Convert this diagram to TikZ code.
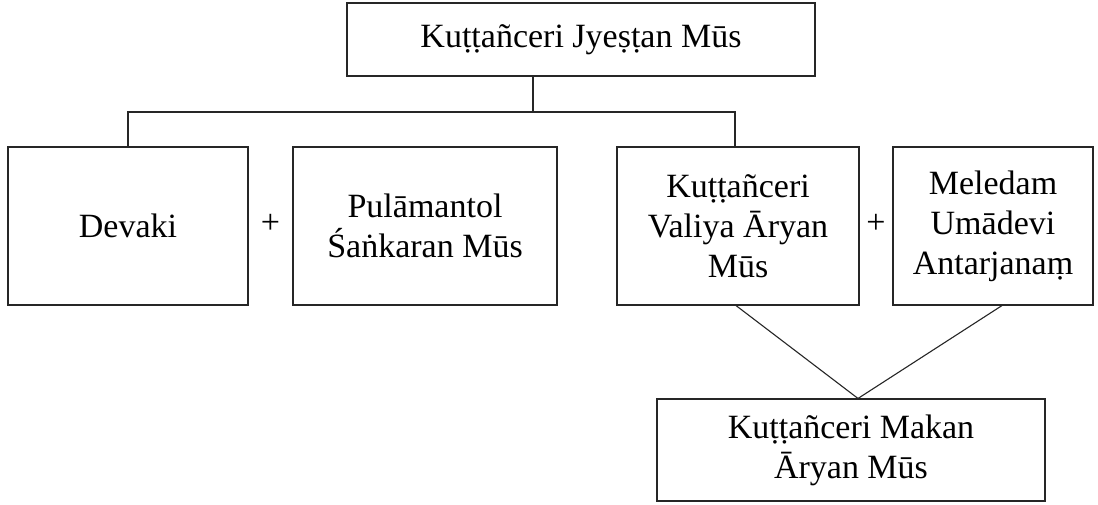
\documentclass[tikz,border=0pt]{standalone}
\usepackage{fontspec}
\setmainfont{Liberation Serif}
\begin{document}
\begin{tikzpicture}[x=1pt,y=-1pt,
  person/.style={draw=black!85, line width=1.1pt, align=center, inner sep=0pt,
    font=\fontsize{34}{40}\selectfont},
  link/.style={draw=black!85, line width=1.1pt},
  plussign/.style={font=\fontsize{34}{40}\selectfont, inner sep=0pt}]
  % page frame
  \fill[white] (0,0) rectangle (1098,504);
  \useasboundingbox (0,0) rectangle (1098,504);

  % people
  \node[person, minimum width=468pt, minimum height=73pt] (top) at (581,39.5)
    {Kuṭṭañceri Jyeṣṭan Mūs};
  \node[person, minimum width=240pt, minimum height=158pt] (devaki) at (128,226)
    {Devaki};
  \node[person, minimum width=264pt, minimum height=158pt] (pula) at (425,226)
    {Pulāmantol\\Śaṅkaran Mūs};
  \node[person, minimum width=242pt, minimum height=158pt] (valiya) at (738,226)
    {Kuṭṭañceri\\Valiya Āryan\\Mūs};
  \node[person, minimum width=200pt, minimum height=158pt] (meledam) at (993,226)
    {Meledam\\Umādevi\\Antarjanaṃ};
  \node[person, minimum width=388pt, minimum height=102pt] (makan) at (851,450)
    {Kuṭṭañceri Makan\\Āryan Mūs};

  % marriage signs
  \node[plussign] (plusA) at (270.5,224) {+};
  \node[plussign] (plusB) at (876,224) {+};

  % descent from the head of the family
  \coordinate (fork) at (533,112);
  \draw[link] (top.south -| fork) -- (fork);
  \draw[link] (devaki.north) |- (fork) -| ([xshift=-3pt]valiya.north);

  % child of the second couple
  \coordinate (apex) at ([xshift=7pt]makan.north);
  \draw[link] ([xshift=-2pt]valiya.south) -- (apex) -- ([xshift=9pt]meledam.south);
\end{tikzpicture}
\end{document}
